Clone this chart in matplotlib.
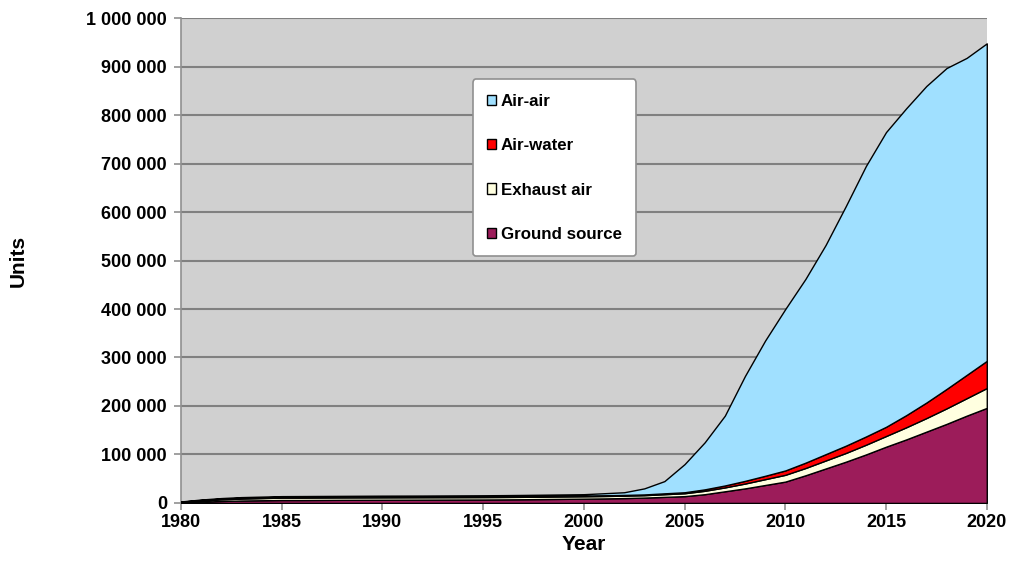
import matplotlib
matplotlib.use("Agg")
import matplotlib.pyplot as plt
from matplotlib.patches import Patch
from matplotlib.ticker import FuncFormatter

years = list(range(1980, 2021))
ground_source = [1000, 2500, 4000, 5000, 5500, 6000, 6000, 6200, 6400, 6500,
                 6600, 6700, 6800, 6900, 7000, 7100, 7300, 7600, 8000, 8400,
                 8800, 9300, 10000, 11000, 12500, 14000, 18000, 24000, 30000, 37000,
                 44000, 57000, 71000, 85000, 100000, 116000, 131000, 147000, 163000, 180000,
                 196000]
exhaust_air = [1000, 2500, 3500, 4000, 4500, 5000, 5000, 5000, 5000, 5000,
               5000, 5000, 5000, 5000, 5000, 5000, 5000, 5000, 5000, 5000,
               5000, 5000, 5000, 5000, 5500, 6000, 7000, 8000, 10000, 12000,
               14000, 15000, 16500, 18000, 20000, 22000, 25000, 28000, 32000, 36000,
               41000]
air_water = [500, 1000, 1200, 1500, 1500, 1500, 1500, 1500, 1500, 1500,
             1500, 1500, 1500, 1500, 1500, 1500, 1500, 1500, 1500, 1500,
             1500, 1500, 1500, 1500, 1800, 2000, 3000, 4000, 5500, 7000,
             9000, 11000, 13000, 15000, 17000, 19000, 25000, 32000, 40000, 48000,
             56000]
air_air = [500, 1000, 1300, 1500, 1500, 1500, 1700, 1700, 1700, 1800,
           1900, 1900, 1900, 2000, 2100, 2200, 2300, 2400, 2500, 2600,
           2700, 4200, 5500, 12500, 25200, 58000, 97000, 144000, 216500, 279000,
           333000, 379000, 431500, 494000, 558000, 608000, 633000, 653000, 662000, 654000,
           655000]
labels = ["Ground source", "Exhaust air", "Air-water", "Air-air"]
colors = ["#9C1C5A", "#FFFFE0", "#FF0000", "#A0E0FF"]
y_ticks = list(range(0, 1000001, 100000))
x_ticks = list(range(1980, 2021, 5))

plt.rcParams['font.family'] = ['Liberation Sans', 'DejaVu Sans']
fig = plt.figure(figsize=(10.10, 5.67), dpi=100)
ax = fig.add_axes([0.179, 0.113, 0.798, 0.855])
ax.set_facecolor("#D0D0D0")

ax.stackplot(years, ground_source, exhaust_air, air_water, air_air,
             colors=colors, edgecolor="black", linewidth=1.0, zorder=3)

ax.set_xlim(1980, 2020)
ax.set_ylim(0, 1000000)
ax.set_yticks(y_ticks)
ax.set_xticks(x_ticks)
ax.yaxis.set_major_formatter(FuncFormatter(lambda v, p: f"{int(v):,}".replace(",", " ")))
ax.grid(axis="y", color="#808080", linewidth=1.5, zorder=1)
ax.set_axisbelow(True)
for s in ["top", "right"]:
    ax.spines[s].set_visible(False)
for s in ["left", "bottom"]:
    ax.spines[s].set_color("#909090")
    ax.spines[s].set_linewidth(1.2)
ax.tick_params(axis="both", colors="#909090", labelcolor="black", length=5, width=1.2,
               labelsize=13)
ax.tick_params(axis="y", pad=5)
ax.tick_params(axis="x", pad=3)
for lab in ax.get_xticklabels() + ax.get_yticklabels():
    lab.set_fontweight("bold")
ax.set_ylabel("Units", fontsize=15, fontweight="bold")
ax.yaxis.set_label_coords(-0.19, 0.5)
ax.set_xlabel("Year", fontsize=15, fontweight="bold", labelpad=3)

handles = [Patch(facecolor=colors[i], edgecolor="black", label=labels[i]) for i in [3, 2, 1, 0]]
leg = ax.legend(handles=handles, loc="upper left", bbox_to_anchor=(0.362, 0.874),
                prop={"weight": "bold", "size": 12.2}, handlelength=0.55,
                handleheight=0.55, handletextpad=0.25, labelspacing=1.74,
                borderpad=0.85, borderaxespad=0, frameon=True, fancybox=True,
                framealpha=1, edgecolor="#909090")
leg.get_frame().set_linewidth(1.2)
leg.set_zorder(5)

fig.savefig("out.png", dpi=100, facecolor="white")
